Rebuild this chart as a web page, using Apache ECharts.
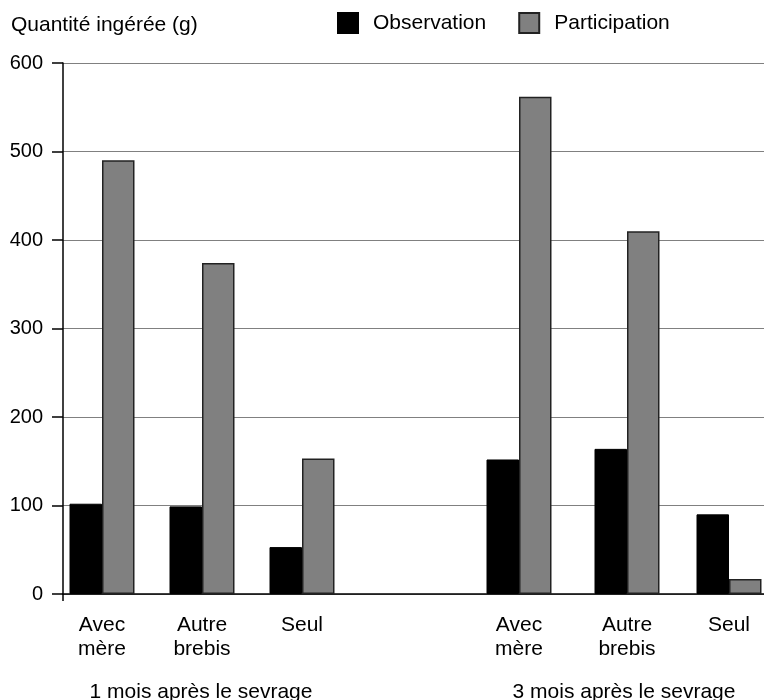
<!DOCTYPE html>
<html>
<head>
<meta charset="utf-8">
<script src="https://cdn.jsdelivr.net/npm/echarts@6/dist/echarts.min.js"></script>
<style>html,body{margin:0;padding:0;background:#fff}#c{width:764px;height:700px}</style>
</head>
<body>
<div id="c"></div>
<script>
const categories = ['Avec\nmère', 'Autre\nbrebis', 'Seul', 'Avec\nmère', 'Autre\nbrebis', 'Seul'];
const slotPositions = [1, 2, 3, 5.17, 6.25, 7.27];
const observation = [102, 99, 53, 152, 164, 90];
const participation = [490, 374, 153, 562, 410, 17];
const groupLabels = ['1 mois après le sevrage', '3 mois après le sevrage'];
const groupPositions = [1.99, 6.22];
const seriesNames = ['Observation', 'Participation'];
const yTitle = 'Quantité ingérée (g)';

const FONT = '"Liberation Sans", Arial, Helvetica, sans-serif';
const X_MIN = 0.61, X_MAX = 7.62;

function near(arr, v) {
  for (let i = 0; i < arr.length; i++) if (Math.abs(arr[i] - v) < 1e-6) return i;
  return -1;
}

const chart = echarts.init(document.getElementById('c'), null, {renderer: 'canvas'});
chart.setOption({
  animation: false,
  textStyle: {fontFamily: FONT, color: '#000'},
  title: {
    text: yTitle, left: 11, top: 15, padding: 0,
    textStyle: {fontFamily: FONT, fontSize: 21, fontWeight: 'normal', color: '#000'}
  },
  legend: {
    data: seriesNames, left: 337, top: 12, padding: 0, itemWidth: 20, itemHeight: 20, itemGap: 32,
    icon: 'rect',
    textStyle: {fontFamily: FONT, fontSize: 21, color: '#000', padding: [0, 0, 0, 10]}
  },
  grid: {left: 63, right: 0, top: 63, bottom: 106, containLabel: false, outerBoundsMode: 'none'},
  xAxis: [{
    type: 'value', min: X_MIN, max: X_MAX, position: 'bottom',
    axisLine: {show: true, onZero: false, lineStyle: {color: '#000', width: 1.5}},
    axisTick: {show: true, customValues: [X_MIN], length: 7, lineStyle: {color: '#000', width: 1.5}},
    splitLine: {show: false},
    axisLabel: {
      customValues: slotPositions, margin: 19, fontSize: 21, lineHeight: 24,
      color: '#000', fontFamily: FONT,
      formatter: v => { const i = near(slotPositions, v); return i >= 0 ? categories[i] : ''; }
    }
  }, {
    type: 'value', min: X_MIN, max: X_MAX, position: 'bottom',
    axisLine: {show: false}, axisTick: {show: false}, splitLine: {show: false},
    axisLabel: {
      customValues: groupPositions, margin: 88, fontSize: 21, color: '#000', fontFamily: FONT,
      formatter: v => { const i = near(groupPositions, v); return i >= 0 ? groupLabels[i] : ''; }
    }
  }],
  yAxis: {
    type: 'value', min: 0, max: 600, interval: 100,
    axisLine: {show: true, lineStyle: {color: '#000', width: 1.5}},
    axisTick: {show: true, length: 11, lineStyle: {color: '#000', width: 1.5}},
    axisLabel: {margin: 20, fontSize: 20, color: '#000', fontFamily: FONT},
    splitLine: {show: true, lineStyle: {color: '#808080', width: 1.2}}
  },
  series: [{
    name: seriesNames[0], type: 'bar', xAxisIndex: 0, barWidth: 32.5, barGap: '0%',
    itemStyle: {color: '#000', borderColor: '#000', borderWidth: 1},
    data: slotPositions.map((x, i) => [x, observation[i]])
  }, {
    name: seriesNames[1], type: 'bar', xAxisIndex: 0, barWidth: 32.5, barGap: '0%',
    itemStyle: {color: '#808080', borderColor: '#222', borderWidth: 1.5},
    data: slotPositions.map((x, i) => [x, participation[i]])
  }]
});
</script>
</body>
</html>
